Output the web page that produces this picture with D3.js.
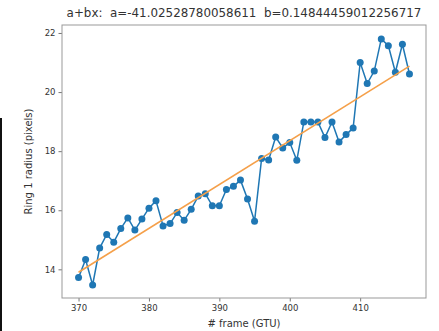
<!DOCTYPE html>
<html><head><meta charset="utf-8">
<script src="https://cdn.jsdelivr.net/npm/d3@7"></script>
<style>body{margin:0;background:#fff;}svg{display:block;font-family:"DejaVu Sans",sans-serif;}</style>
</head><body>
<script>
const frames = [370,371,372,373,374,375,376,377,378,379,380,381,382,383,384,385,386,387,388,389,390,391,392,393,394,395,396,397,398,399,400,401,402,403,404,405,406,407,408,409,410,411,412,413,414,415,416,417];
const radius = [13.72,14.33,13.47,14.72,15.18,14.92,15.38,15.74,15.33,15.70,16.07,16.32,15.47,15.55,15.92,15.66,16.03,16.48,16.56,16.15,16.15,16.70,16.81,17.02,16.38,15.63,17.75,17.70,18.48,18.11,18.29,17.69,18.99,18.99,18.99,18.46,18.99,18.31,18.56,18.78,21.00,20.29,20.71,21.80,21.57,20.67,21.62,20.61];
const fitX = [370, 417];
const fitY = [13.900, 20.877];
const xTicks = [370,380,390,400,410];
const yTicks = [14,16,18,20,22];
const titleText = "a+bx:  a=-41.02528780058611  b=0.14844459012256717";
const xLabel = "# frame (GTU)";
const yLabel = "Ring 1 radius (pixels)";

const W = 439, H = 331;
const m = {left: 62, right: 13, top: 25, bottom: 33};
const svg = d3.select("body").append("svg").attr("width", W).attr("height", H);

const x = d3.scaleLinear().domain([367.65, 419.35]).range([m.left, W - m.right]);
const y = d3.scaleLinear().domain([13.03, 22.27]).range([H - m.bottom, m.top]);

// dark edge at left of the picture
svg.append("rect").attr("x", 0).attr("y", 118).attr("width", 2).attr("height", H - 118).attr("fill", "#111");

const gx = svg.append("g").attr("transform", `translate(0,${H - m.bottom})`)
  .call(d3.axisBottom(x).tickValues(xTicks).tickFormat(d3.format("d")).tickSize(3.5).tickPadding(3));
const gy = svg.append("g").attr("transform", `translate(${m.left},0)`)
  .call(d3.axisLeft(y).tickValues(yTicks).tickFormat(d3.format("d")).tickSize(3.5).tickPadding(3));
[gx, gy].forEach(g => {
  g.select(".domain").remove();
  g.selectAll(".tick line").attr("stroke", "#777");
  g.selectAll(".tick text").attr("fill", "#333").style("font-size", "8.5px").style("font-family", "DejaVu Sans");
});

svg.append("rect").attr("x", m.left).attr("y", m.top)
  .attr("width", W - m.right - m.left).attr("height", H - m.bottom - m.top)
  .attr("fill", "none").attr("stroke", "#999").attr("stroke-width", 1);

const pts = frames.map((f, i) => [f, radius[i]]);
svg.append("path").datum(pts)
  .attr("d", d3.line().x(d => x(d[0])).y(d => y(d[1])))
  .attr("fill", "none").attr("stroke", "#1f77b4").attr("stroke-width", 1.5);
svg.append("g").selectAll("circle").data(pts).join("circle")
  .attr("cx", d => x(d[0])).attr("cy", d => y(d[1])).attr("r", 3.5).attr("fill", "#1f77b4");

svg.append("path").datum(fitX.map((f, i) => [f, fitY[i]]))
  .attr("d", d3.line().x(d => x(d[0])).y(d => y(d[1])))
  .attr("fill", "none").attr("stroke", "#f5a04a").attr("stroke-width", 1.6);

svg.append("text").attr("x", (m.left + W - m.right) / 2).attr("y", 17)
  .attr("text-anchor", "middle").attr("fill", "#333").style("font-size", "11.9px")
  .style("white-space", "pre").text(titleText);
svg.append("text").attr("x", (m.left + W - m.right) / 2).attr("y", 327)
  .attr("text-anchor", "middle").attr("fill", "#333").style("font-size", "10px").text(xLabel);
svg.append("text").attr("transform", `translate(32,${(m.top + H - m.bottom) / 2}) rotate(-90)`)
  .attr("text-anchor", "middle").attr("fill", "#333").style("font-size", "10px").text(yLabel);
</script>
</body></html>
